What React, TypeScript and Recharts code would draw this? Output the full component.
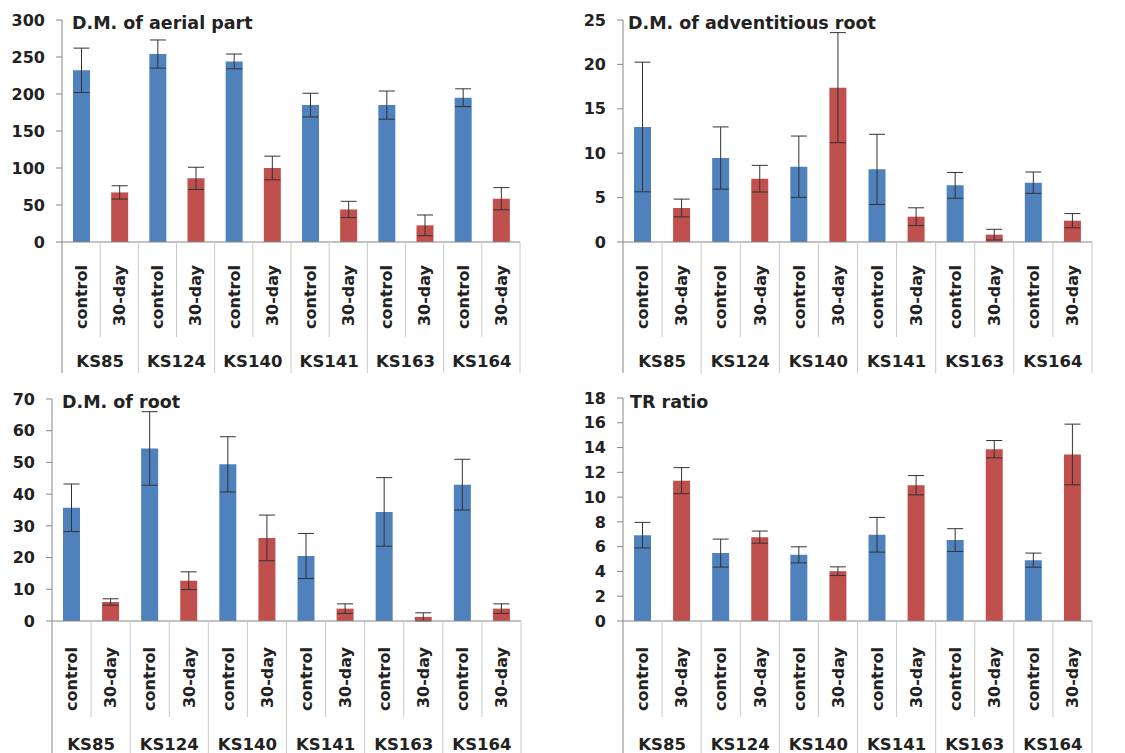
import React from 'react';
import { BarChart, Bar, XAxis, YAxis, ErrorBar, Cell } from 'recharts';

const groups = ['KS85', 'KS124', 'KS140', 'KS141', 'KS163', 'KS164'];
const treatments = ['control', '30-day'];
const treatmentColors = ['#4F81BD', '#C0504D'];

const aerialControl = [232, 254, 244, 185, 185, 195];
const aerialControlErr = [30, 19, 10, 16, 19, 12];
const aerialDay30 = [67, 86, 100, 44, 22.5, 58.5];
const aerialDay30Err = [9, 15, 16, 11, 14, 15];
const aerialTicks = [0, 50, 100, 150, 200, 250, 300];

const advControl = [12.95, 9.46, 8.48, 8.18, 6.38, 6.68];
const advControlErr = [7.3, 3.5, 3.45, 3.95, 1.45, 1.2];
const advDay30 = [3.83, 7.13, 17.38, 2.85, 0.83, 2.4];
const advDay30Err = [1, 1.5, 6.2, 1, 0.6, 0.8];
const advTicks = [0, 5, 10, 15, 20, 25];

const rootControl = [35.7, 54.4, 49.4, 20.5, 34.4, 43];
const rootControlErr = [7.5, 11.6, 8.7, 7.1, 10.8, 8];
const rootDay30 = [6, 12.7, 26.2, 3.9, 1.3, 3.9];
const rootDay30Err = [1, 2.8, 7.2, 1.5, 1.3, 1.5];
const rootTicks = [0, 10, 20, 30, 40, 50, 60, 70];

const trControl = [6.93, 5.48, 5.34, 6.96, 6.53, 4.91];
const trControlErr = [1.03, 1.13, 0.65, 1.4, 0.92, 0.57];
const trDay30 = [11.33, 6.77, 4.02, 10.96, 13.87, 13.44];
const trDay30Err = [1.05, 0.49, 0.35, 0.78, 0.7, 2.45];
const trTicks = [0, 2, 4, 6, 8, 10, 12, 14, 16, 18];

function buildData(ctrl: number[], ctrlErr: number[], d30: number[], d30Err: number[]) {
  const rows: any[] = [];
  groups.forEach((g, i) => {
    rows.push({ key: `${g}-c`, group: g, treat: treatments[0], t: 0, value: ctrl[i], err: ctrlErr[i] });
    rows.push({ key: `${g}-d`, group: g, treat: treatments[1], t: 1, value: d30[i], err: d30Err[i] });
  });
  return rows;
}

const FONT = '"DejaVu Sans", sans-serif';
const TEXT = '#222';
const AXIS = '#868686';
const SEP = '#c8c8c8';

type PanelProps = {
  left: number; top: number; width: number; height: number;
  yAxisWidth: number; marginTop: number; marginRight: number; plotHeight: number;
  data: any[]; ticks: number[];
  labelOffset: number; groupOffset: number; innerSep: number; groupSep: number;
};

function Panel(p: PanelProps) {
  const plotW = p.width - p.yAxisWidth - p.marginRight;
  const band = plotW / p.data.length;
  const xAxisH = p.height - p.marginTop - p.plotHeight;

  const Tick = (props: any) => {
    const { x, y, payload, index } = props;
    const row = p.data[index];
    const half = band / 2;
    return (
      <g>
        <text
          transform={`translate(${x}, ${y + p.labelOffset}) rotate(-90)`}
          textAnchor="end"
          dy="0.36em"
          fontFamily={FONT}
          fontWeight="bold"
          fontSize={16}
          fill={TEXT}
        >
          {row ? row.treat : payload.value}
        </text>
        {index % 2 === 0 ? (
          <>
            <line x1={x + half} x2={x + half} y1={y} y2={y + p.innerSep} stroke={SEP} />
            <line x1={x - half} x2={x - half} y1={y} y2={y + p.groupSep} stroke={index === 0 ? AXIS : SEP} />
          </>
        ) : (
          <>
            <text
              x={x - half}
              y={y + p.groupOffset}
              textAnchor="middle"
              fontFamily={FONT}
              fontWeight="bold"
              fontSize={16.5}
              fill={TEXT}
            >
              {row.group}
            </text>
            {index === p.data.length - 1 ? (
              <line x1={x + half} x2={x + half} y1={y} y2={y + p.groupSep} stroke={SEP} />
            ) : null}
          </>
        )}
      </g>
    );
  };

  return (
    <div style={{ position: 'absolute', left: p.left, top: p.top }}>
      <BarChart
        width={p.width}
        height={p.height}
        data={p.data}
        margin={{ top: p.marginTop, right: p.marginRight, bottom: 0, left: 0 }}
        barSize={17}
      >
        <XAxis
          dataKey="key"
          type="category"
          interval={0}
          height={xAxisH}
          tickSize={0}
          tickMargin={0}
          tickLine={false}
          axisLine={{ stroke: AXIS }}
          tick={<Tick />}
        />
        <YAxis
          width={p.yAxisWidth}
          domain={[0, p.ticks[p.ticks.length - 1]]}
          ticks={p.ticks}
          interval={0}
          tickSize={6}
          tickMargin={11}
          tickLine={{ stroke: AXIS }}
          axisLine={{ stroke: AXIS }}
          tick={{ fontFamily: FONT, fontWeight: 'bold', fontSize: 16, fill: TEXT }}
        />
        <Bar dataKey="value" isAnimationActive={false}>
          {p.data.map((d) => (
            <Cell key={d.key} fill={treatmentColors[d.t]} />
          ))}
          <ErrorBar dataKey="err" width={8} stroke="#333" strokeWidth={1} direction="y" />
        </Bar>
      </BarChart>
    </div>
  );
}

export default function App() {
  const aerial = buildData(aerialControl, aerialControlErr, aerialDay30, aerialDay30Err);
  const adv = buildData(advControl, advControlErr, advDay30, advDay30Err);
  const root = buildData(rootControl, rootControlErr, rootDay30, rootDay30Err);
  const tr = buildData(trControl, trControlErr, trDay30, trDay30Err);

  return (
    <div style={{ position: 'absolute', left: 0, top: 0, width: 1125, height: 753, background: '#fff', overflow: 'hidden' }}>
      <Panel left={0} top={0} width={540} height={380} yAxisWidth={62} marginTop={20} marginRight={20}
        plotHeight={222} data={aerial} ticks={aerialTicks}
        labelOffset={23} groupOffset={125} innerSep={95} groupSep={131} />
      <Panel left={565} top={0} width={545} height={380} yAxisWidth={58} marginTop={20} marginRight={18}
        plotHeight={222} data={adv} ticks={advTicks}
        labelOffset={23} groupOffset={125} innerSep={95} groupSep={131} />
      <Panel left={0} top={380} width={540} height={373} yAxisWidth={52} marginTop={19} marginRight={19}
        plotHeight={222} data={root} ticks={rootTicks}
        labelOffset={26} groupOffset={129} innerSep={96} groupSep={140} />
      <Panel left={565} top={380} width={545} height={373} yAxisWidth={58} marginTop={18} marginRight={18}
        plotHeight={223} data={tr} ticks={trTicks}
        labelOffset={26} groupOffset={129} innerSep={96} groupSep={140} />
      <svg width={1125} height={753} style={{ position: 'absolute', left: 0, top: 0, pointerEvents: 'none' }}>
        <g fontFamily={FONT} fontWeight="bold" fontSize={17.5} fill={TEXT}>
          <text x={72} y={29}>D.M. of aerial part</text>
          <text x={628} y={29}>D.M. of adventitious root</text>
          <text x={62} y={408}>D.M. of root</text>
          <text x={630} y={408}>TR ratio</text>
        </g>
      </svg>
    </div>
  );
}
